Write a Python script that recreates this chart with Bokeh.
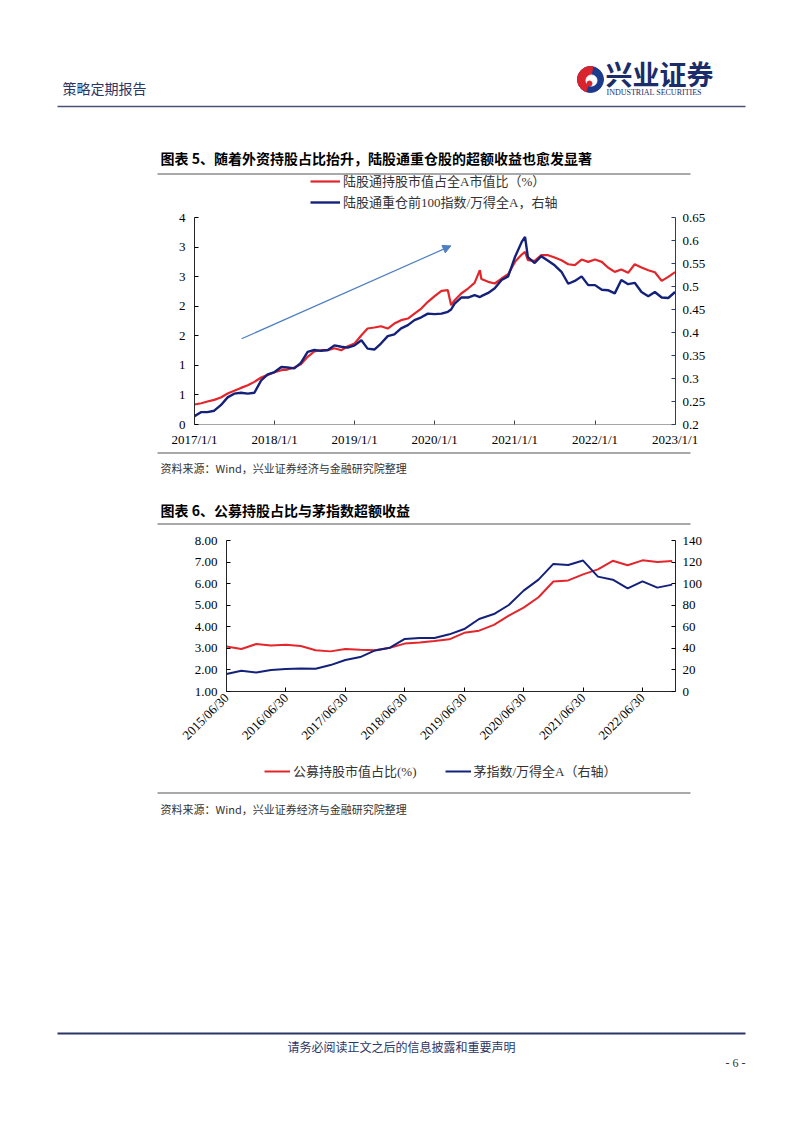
import math
import pandas as pd
from bokeh.plotting import figure
from bokeh.models import (Range1d, LinearAxis, FixedTicker, CustomJSTickFormatter,
                          NumeralTickFormatter, Legend, LegendItem, Arrow, NormalHead,
                          ColumnDataSource)
from bokeh.core.properties import value
from bokeh.embed import file_html
from bokeh.resources import INLINE

# ---------------- Chart 5 data ----------------
hk_dates = ["2017-01-01", "2017-02-01", "2017-03-01", "2017-04-01", "2017-05-01", "2017-06-01",
            "2017-07-01", "2017-08-01", "2017-09-01", "2017-10-01", "2017-11-01", "2017-12-01",
            "2018-01-01", "2018-02-01", "2018-03-01", "2018-04-01", "2018-05-01", "2018-06-01",
            "2018-07-01", "2018-08-01", "2018-09-01", "2018-10-01", "2018-11-01", "2018-12-01",
            "2019-01-01", "2019-02-01", "2019-03-01", "2019-04-01", "2019-05-01", "2019-06-01",
            "2019-07-01", "2019-08-01", "2019-09-01", "2019-10-01", "2019-11-01", "2019-12-01",
            "2020-01-01", "2020-02-01", "2020-03-01", "2020-03-16", "2020-04-01", "2020-05-01",
            "2020-06-01", "2020-07-01", "2020-07-25", "2020-08-01", "2020-09-01", "2020-10-01",
            "2020-11-01", "2020-12-01", "2021-01-01", "2021-02-01", "2021-02-16", "2021-03-01",
            "2021-04-01", "2021-05-01", "2021-06-01", "2021-07-01", "2021-08-01", "2021-09-01",
            "2021-10-01", "2021-11-01", "2021-12-01", "2022-01-01", "2022-02-01", "2022-03-01",
            "2022-04-01", "2022-05-01", "2022-06-01", "2022-07-01", "2022-08-01", "2022-09-01",
            "2022-10-01", "2022-11-01", "2022-12-01", "2023-01-01"]
hk_share = [0.338, 0.360, 0.388, 0.417, 0.456, 0.524,
            0.569, 0.619, 0.665, 0.721, 0.794, 0.839,
            0.884, 0.918, 0.929, 0.963, 1.020, 1.144,
            1.234, 1.256, 1.256, 1.290, 1.256, 1.324,
            1.369, 1.510, 1.623, 1.640, 1.662, 1.623,
            1.707, 1.764, 1.792, 1.876, 1.961, 2.074,
            2.169, 2.260, 2.271, 2.017, 2.102, 2.215,
            2.299, 2.395, 2.609, 2.460, 2.412, 2.384,
            2.468, 2.541, 2.750, 2.874, 2.919, 2.778,
            2.767, 2.863, 2.863, 2.823, 2.778, 2.710,
            2.694, 2.789, 2.750, 2.789, 2.750, 2.654,
            2.581, 2.620, 2.564, 2.710, 2.654, 2.609,
            2.575, 2.429, 2.496, 2.575]
hk_top100 = [0.218, 0.227, 0.227, 0.230, 0.242, 0.259,
             0.267, 0.269, 0.267, 0.269, 0.296, 0.309,
             0.314, 0.325, 0.324, 0.322, 0.334, 0.358,
             0.362, 0.360, 0.362, 0.372, 0.369, 0.367,
             0.372, 0.383, 0.365, 0.363, 0.376, 0.392,
             0.396, 0.409, 0.416, 0.427, 0.433, 0.441,
             0.440, 0.441, 0.445, 0.450, 0.463, 0.476,
             0.476, 0.481, 0.477, 0.479, 0.486, 0.496,
             0.514, 0.522, 0.564, 0.597, 0.608, 0.564,
             0.551, 0.566, 0.556, 0.546, 0.532, 0.506,
             0.512, 0.522, 0.503, 0.503, 0.493, 0.492,
             0.485, 0.514, 0.505, 0.508, 0.488, 0.479,
             0.488, 0.476, 0.475, 0.488]
hk_x_ticks = ["2017-01-01", "2018-01-01", "2019-01-01", "2020-01-01",
              "2021-01-01", "2022-01-01", "2023-01-01"]
hk_x_labels = ["2017/1/1", "2018/1/1", "2019/1/1", "2020/1/1", "2021/1/1", "2022/1/1", "2023/1/1"]
hk_left_ticks = [0, 0.5, 1, 1.5, 2, 2.5, 3, 3.5]
hk_left_labels = ["0", "1", "1", "2", "2", "3", "3", "4"]
hk_right_ticks = [0.2, 0.25, 0.3, 0.35, 0.4, 0.45, 0.5, 0.55, 0.6, 0.65]
hk_right_labels = ["0.2", "0.25", "0.3", "0.35", "0.4", "0.45", "0.5", "0.55", "0.6", "0.65"]
hk_names = ["陆股通持股市值占全A市值比（%）", "陆股通重仓前100指数/万得全A，右轴"]
arrow_dates = ["2017-08-04", "2020-03-15"]
arrow_values = [1.45, 3.02]

# ---------------- Chart 6 data ----------------
fund_quarters = ["2015/06/30", "2015/09/30", "2015/12/31", "2016/03/31", "2016/06/30", "2016/09/30",
                 "2016/12/31", "2017/03/31", "2017/06/30", "2017/09/30", "2017/12/31", "2018/03/31",
                 "2018/06/30", "2018/09/30", "2018/12/31", "2019/03/31", "2019/06/30", "2019/09/30",
                 "2019/12/31", "2020/03/31", "2020/06/30", "2020/09/30", "2020/12/31", "2021/03/31",
                 "2021/06/30", "2021/09/30", "2021/12/31", "2022/03/31", "2022/06/30", "2022/09/30",
                 "2022/12/31"]
fund_share = [3.09, 2.97, 3.20, 3.13, 3.17, 3.11, 2.91, 2.86, 2.97, 2.93, 2.91, 3.03,
              3.22, 3.27, 3.34, 3.42, 3.72, 3.82, 4.09, 4.52, 4.89, 5.37, 6.10, 6.15,
              6.43, 6.66, 7.06, 6.85, 7.08, 7.00, 7.05]
mao_ratio = [16.2, 19.2, 17.6, 19.9, 20.8, 21.4, 21.1, 24.5, 29.2, 31.9, 38.1, 40.6,
             48.7, 49.6, 49.6, 53.0, 57.9, 67.2, 71.8, 80.2, 93.5, 103.7, 118.3, 117.3,
             121.4, 106.5, 103.7, 95.6, 102.1, 96.3, 99.1]
fund_tick_idx = [0, 4, 8, 12, 16, 20, 24, 28]
fund_left_ticks = [1, 2, 3, 4, 5, 6, 7, 8]
fund_right_ticks = [0, 20, 40, 60, 80, 100, 120, 140]
fund_names = ["公募持股市值占比(%)", "茅指数/万得全A（右轴）"]

# ---------------- page texts ----------------
header_text = "策略定期报告"
logo_cn = "兴业证券"
logo_en = "INDUSTRIAL SECURITIES"
title5 = "图表 5、随着外资持股占比抬升，陆股通重仓股的超额收益也愈发显著"
title6 = "图表 6、公募持股占比与茅指数超额收益"
source_text = "资料来源：Wind，兴业证券经济与金融研究院整理"
footer_text = "请务必阅读正文之后的信息披露和重要声明"
page_no = "- 6 -"

# ---------------- styles ----------------
W = 786
SERIF = "'Liberation Serif', 'Noto Sans CJK SC'"
CJK = "'Noto Sans CJK SC'"
RED = "#E3262B"
NAVY = "#14217A"
ARROW = "#4F7FC0"
PAGE_NAVY = "#2B3566"
GRAY_LINE = "#8C8C8C"

LIST_FMT = """
let best = -1, bd = Infinity;
for (let i = 0; i < tvals.length; i++) {
  const d = Math.abs(tvals[i] - tick);
  if (d < bd) { bd = d; best = i; }
}
return (best >= 0 && bd < tol) ? tlabels[best] : "";
"""


def list_formatter(tvals, tlabels, tol=1e-6):
    return CustomJSTickFormatter(args=dict(tvals=tvals, tlabels=tlabels, tol=tol), code=LIST_FMT)


def style_axis(ax, line_color="#000000", tick_color="#000000", standoff=6):
    ax.axis_line_color = line_color
    ax.axis_line_width = 1
    ax.major_tick_in = 4
    ax.major_tick_out = 0
    ax.minor_tick_in = 0
    ax.minor_tick_out = 0
    ax.major_tick_line_color = tick_color
    ax.major_label_text_font = SERIF
    ax.major_label_text_font_size = "13px"
    ax.major_label_text_color = "#000000"
    ax.major_label_standoff = standoff


def layout_fig(height, ytop):
    p = figure(width=W, height=height, x_range=Range1d(8, 8 + W),
               y_range=Range1d(ytop + height, ytop), output_backend="svg",
               toolbar_location=None, x_axis_location=None, y_axis_location=None,
               min_border_left=0, min_border_right=0, min_border_top=0, min_border_bottom=0)
    p.grid.visible = False
    p.outline_line_color = None
    return p


def put_text(p, x, y, txt, size, font=CJK, color="#000000", align="left", bold=False):
    p.text(x=[x], y=[y], text=[txt], text_font=value(font), text_font_size=value(size),
           text_color=color, text_align=align, text_baseline="middle",
           text_font_style="bold" if bold else "normal")


def legend_for(p, names, styles, orientation, loc, glyph_w, spacing):
    # swatch renderers: a single off-page point each, so only the legend shows their style
    rs = [p.line(x=[-50], y=[-50], line_color=c, line_width=w) for c, w in styles]
    leg = Legend(items=[LegendItem(label=n, renderers=[r], index=0) for n, r in zip(names, rs)],
                 location=loc, orientation=orientation,
                 label_text_font=SERIF, label_text_font_size="13px", label_text_color="#333333",
                 glyph_width=glyph_w, glyph_height=16, label_height=16, label_standoff=3,
                 spacing=spacing, padding=0, margin=0, border_line_color=None,
                 background_fill_alpha=0)
    p.add_layout(leg)


# ---------------- header (page y 8..211) ----------------
HDR_TOP, HDR_H = 8, 203
hdr = layout_fig(HDR_H, HDR_TOP)
put_text(hdr, 62, 87, header_text, "14px", color=PAGE_NAVY)
hdr.wedge(x=[590], y=[79], radius=13, start_angle=0, end_angle=2 * math.pi, color="#1D3A8C")
hdr.wedge(x=[590], y=[79], radius=13, start_angle=math.radians(80), end_angle=math.radians(250),
          color="#D9232D")
hdr.circle(x=[591], y=[80], radius=5.5, color="white")
hdr.circle(x=[589], y=[83], radius=2.5, color="#D9232D")
put_text(hdr, 605, 73, logo_cn, "27px", font="'Noto Sans CJK SC'", color="#1B2C6B", bold=True)
put_text(hdr, 606, 92, logo_en, "8px", font="'Liberation Serif'", color="#1B2C6B")
hdr.line(x=[57, 745], y=[106, 106], line_color="#4A5078", line_width=1.6)
put_text(hdr, 160, 157, title5, "14px", bold=True)
hdr.line(x=[157, 690], y=[173.5, 173.5], line_color=GRAY_LINE, line_width=1.5)
legend_for(hdr, hk_names, [(RED, 2.2), (NAVY, 2.4)], "vertical", (302, 0), 30, 2)

# ---------------- chart 5 (page y 211..450) ----------------
tick_ms = [float(pd.Timestamp(d).value // 10**6) for d in hk_x_ticks]
p1 = figure(width=W, height=239, x_axis_type="datetime",
            x_range=Range1d(pd.Timestamp("2017-01-01"), pd.Timestamp("2023-01-03")),
            y_range=Range1d(0, 3.5), output_backend="svg", toolbar_location=None,
            min_border_left=186, min_border_right=119, min_border_top=6, min_border_bottom=26)
p1.extra_y_ranges = {"right": Range1d(0.2, 0.65)}
p1.grid.visible = False
p1.outline_line_color = None

src1 = ColumnDataSource(dict(date=pd.to_datetime(hk_dates), share=hk_share, top=hk_top100))
p1.line("date", "share", source=src1, line_color=RED, line_width=2.2)
p1.line("date", "top", source=src1, y_range_name="right", line_color=NAVY, line_width=2.4)

a_ms = [float(pd.Timestamp(d).value // 10**6) for d in arrow_dates]
p1.add_layout(Arrow(end=NormalHead(size=8, fill_color=ARROW, line_color=ARROW),
                    x_start=a_ms[0], y_start=arrow_values[0], x_end=a_ms[1], y_end=arrow_values[1],
                    line_color=ARROW, line_width=1.2))

xa = p1.xaxis[0]
xa.ticker = FixedTicker(ticks=tick_ms)
xa.formatter = list_formatter(tick_ms, hk_x_labels, tol=1000.0)
style_axis(xa, line_color="#A6A6A6", tick_color="#404040", standoff=7)

ya = p1.yaxis[0]
ya.ticker = FixedTicker(ticks=hk_left_ticks)
ya.formatter = list_formatter(hk_left_ticks, hk_left_labels)
style_axis(ya, line_color="#262626", standoff=9)

ra = LinearAxis(y_range_name="right", ticker=FixedTicker(ticks=hk_right_ticks),
                formatter=list_formatter(hk_right_ticks, hk_right_labels))
style_axis(ra, line_color="#2E3A74", tick_color="#2E3A74", standoff=7)
p1.add_layout(ra, "right")

# ---------------- middle (page y 450..527) ----------------
mid = layout_fig(77, 450)
mid.line(x=[157, 690], y=[452.5, 452.5], line_color=GRAY_LINE, line_width=1.5)
put_text(mid, 160, 467, source_text, "11px", color="#333333")
put_text(mid, 160, 509, title6, "14px", bold=True)
mid.line(x=[157, 690], y=[523.5, 523.5], line_color=GRAY_LINE, line_width=1.5)

# ---------------- chart 6 (page y 527..762) ----------------
idx = list(range(len(fund_quarters)))
p2 = figure(width=W, height=235, x_range=Range1d(0, 30.22), y_range=Range1d(1, 8),
            output_backend="svg", toolbar_location=None,
            min_border_left=218, min_border_right=119, min_border_top=13, min_border_bottom=71)
p2.extra_y_ranges = {"right": Range1d(0, 140)}
p2.grid.visible = False
p2.outline_line_color = None
src2 = ColumnDataSource(dict(i=idx, share=fund_share, mao=mao_ratio))
p2.line("i", "share", source=src2, line_color=RED, line_width=2)
p2.line("i", "mao", source=src2, y_range_name="right", line_color=NAVY, line_width=2)

xb = p2.xaxis[0]
xb.ticker = FixedTicker(ticks=fund_tick_idx)
xb.formatter = list_formatter(fund_tick_idx, [fund_quarters[k] for k in fund_tick_idx])
xb.major_label_orientation = math.pi / 4
style_axis(xb, line_color="#262626", standoff=4)

yb = p2.yaxis[0]
yb.ticker = FixedTicker(ticks=fund_left_ticks)
yb.formatter = NumeralTickFormatter(format="0.00")
style_axis(yb, line_color="#262626", standoff=9)

rb = LinearAxis(y_range_name="right", ticker=FixedTicker(ticks=fund_right_ticks),
                formatter=NumeralTickFormatter(format="0"))
style_axis(rb, line_color="#262626", standoff=7)
p2.add_layout(rb, "right")

# ---------------- footer (page y 762..1075) ----------------
FTR_TOP, FTR_H = 762, 313
ftr = layout_fig(FTR_H, FTR_TOP)
legend_for(ftr, fund_names, [(RED, 2), (NAVY, 2)], "horizontal",
           (256, FTR_TOP + FTR_H - 780), 26, 28)
ftr.line(x=[157, 690], y=[792.5, 792.5], line_color=GRAY_LINE, line_width=1.5)
put_text(ftr, 160, 808, source_text, "11px", color="#333333")
ftr.line(x=[57, 745], y=[1033, 1033], line_color=PAGE_NAVY, line_width=2.2)
put_text(ftr, 401, 1046, footer_text, "12px", color=PAGE_NAVY, align="center")
put_text(ftr, 745, 1062, page_no, "12px", font="'Liberation Serif'", color="#333333", align="right")

html = file_html([hdr, p1, mid, p2, ftr], INLINE, "page")
html = html.replace("</head>", "<style>body{margin:8px;} .bk-root, div[id]{line-height:0;}</style></head>", 1)
open("out.html", "w").write(html)
